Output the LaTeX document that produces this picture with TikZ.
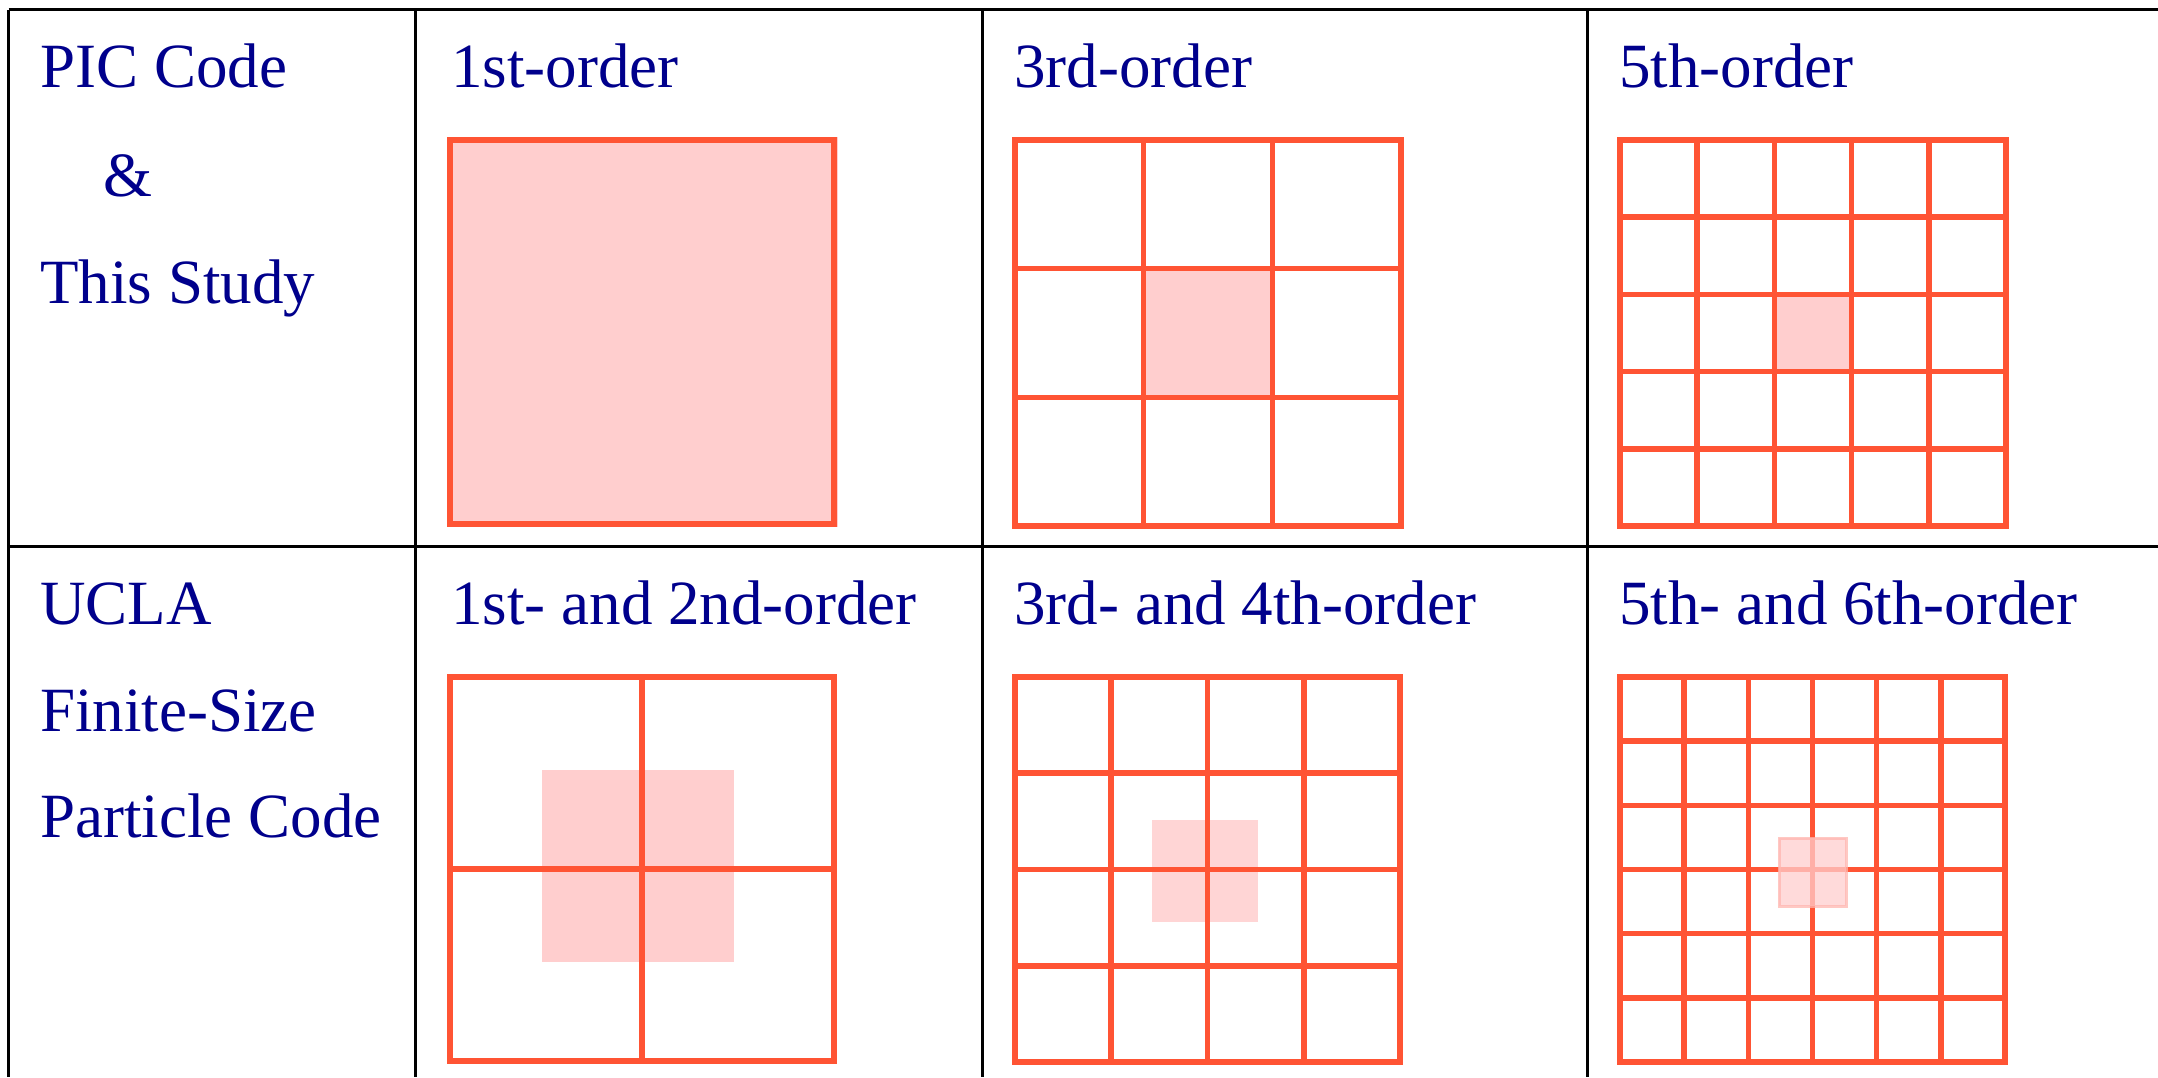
\documentclass[tikz,border=0pt]{standalone}
\usepackage{fontspec}
\setmainfont{Liberation Serif}
\definecolor{gridred}{RGB}{255,84,52}
\definecolor{cellpink}{RGB}{255,206,206}
\definecolor{navytext}{RGB}{0,0,140}
\newcommand\drawOrderGrid[4]{%
  \pgfmathsetmacro\cellw{#3/#4}%
  \pgfmathtruncatemacro\nm{#4-1}%
  \ifnum\nm>0
    \foreach \k in {1,...,\nm}{%
      \draw[gridline] ({#1+\k*\cellw},#2) -- ++(0,#3);
      \draw[gridline] (#1,{#2+\k*\cellw}) -- ++(#3,0);
    }%
  \fi
  \draw[gridline] (#1,#2) rectangle ++(#3,#3);
}
\begin{document}
\begin{tikzpicture}[x=0.5pt,y=-0.5pt,
  tableline/.style={line width=1.5pt,black},
  gridline/.style={line width=2.8pt,gridred},
  pinkfill/.style={fill=cellpink},
  label/.style={anchor=base west,inner sep=0pt,text=navytext,
    font=\fontsize{31.5}{36}\selectfont}]
\useasboundingbox (0,0) rectangle (2158,1077);
% table rules
\draw[tableline] (8.7,9.7) -- (2158,9.7);
\draw[tableline] (8.7,546.3) -- (2158,546.3);
\draw[tableline] (8.7,9.7) -- (8.7,1077);
\draw[tableline] (415.3,9.7) -- (415.3,1077);
\draw[tableline] (982.7,9.7) -- (982.7,1077);
\draw[tableline] (1587.3,9.7) -- (1587.3,1077);
% row 1 labels
\node[label] (pic) at (40,87.5) {PIC Code};
\node[label] (amp) at (103,196) {\&};
\node[label] (this) at (40,303) {This Study};
\node[label] (o1) at (451,87.5) {1st-order};
\node[label] (o3) at (1014,87.5) {3rd-order};
\node[label] (o5) at (1619,87.5) {5th-order};
% row 2 labels
\node[label] (ucla) at (40,624) {UCLA};
\node[label] (fin) at (40,731.7) {Finite-Size};
\node[label] (part) at (40,837.7) {Particle Code};
\node[label] (o12) at (451,624) {1st- and 2nd-order};
\node[label] (o34) at (1014,624) {3rd- and 4th-order};
\node[label] (o56) at (1619,624) {5th- and 6th-order};
% row 1 grids
\fill[pinkfill] (447,137) rectangle (838,527);
\drawOrderGrid{450}{140}{384}{1}
\fill[pinkfill] (1143,268) rectangle (1275,397);
\drawOrderGrid{1015}{140}{386}{3}
\fill[pinkfill] (1774.4,294.4) rectangle (1851.6,371.6);
\drawOrderGrid{1620}{140}{386}{5}
% row 2 grids
\fill[pinkfill] (542,770) rectangle (734,962);
\drawOrderGrid{450}{677}{384}{2}
\fill[pinkfill,opacity=0.85] (1152,820) rectangle (1258,922);
\drawOrderGrid{1015}{677}{385}{4}
\drawOrderGrid{1620}{677}{385}{6}
\fill[pinkfill,opacity=0.75,draw=cellpink!80!gridred,line width=1.5pt] (1779,838) rectangle (1846,906);
\end{tikzpicture}
\end{document}
